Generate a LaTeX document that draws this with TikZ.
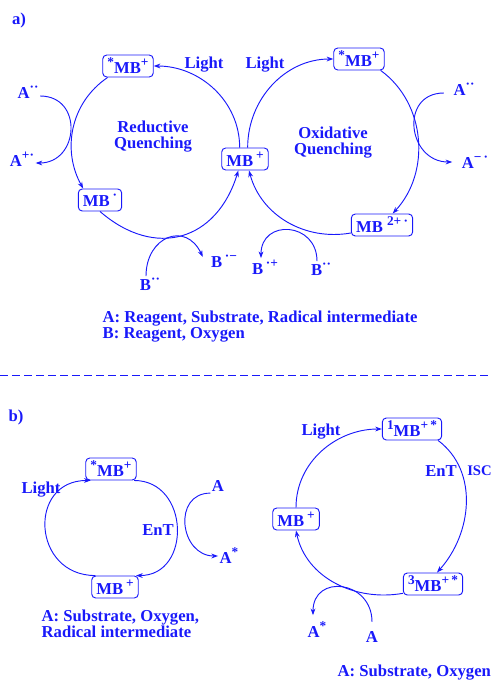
\documentclass[tikz,border=0pt]{standalone}
\usepackage{fontspec}
\setmainfont{Liberation Serif}
\usetikzlibrary{arrows.meta}
\definecolor{mbblue}{RGB}{25,25,250}
\newcommand{\upx}[1]{\raisebox{0.42em}{\fontsize{10}{10}\selectfont #1}}

\begin{document}
\begin{tikzpicture}[
  x=0.75pt, y=0.75pt,
  every node/.style={font=\fontsize{12.5}{12}\selectfont\bfseries, text=mbblue},
  box/.style={draw=mbblue, rounded corners=3pt, line width=0.7pt, inner xsep=3.5pt, inner ysep=2pt, minimum height=16.5pt},
  species/.style={inner sep=1pt},
  arrow/.style={-{Stealth[length=5pt,width=3.6pt]}, draw=mbblue, line width=0.7pt},
  legend/.style={align=left, anchor=west},
  divider/.style={draw=mbblue, line width=0.7pt, dash pattern=on 6pt off 3pt}
]
  \useasboundingbox (0,0) rectangle (492,-681);

  % a) Reductive and oxidative quenching
  \node (tagA) at (19,-20) {a)};
  \node[box] (rexc) at (128,-66) {\upx{*}MB\upx{+}};
  \node[box] (mbc) at (245,-159) {MB\,\upx{+}};
  \node[box] (lrad) at (100,-200) {MB\,\upx{·}};
  \node[box] (oexc) at (359,-59) {\upx{*}MB\upx{+}};
  \node[box] (ored) at (382,-225) {MB\ \upx{2+\,·}};

  \node (lightL) at (204,-65) {Light};
  \node (lightR) at (265,-65) {Light};
  \node[align=center] (redq) at (153,-137) {Reductive\\Quenching};
  \node[align=center] (oxq) at (333,-143) {Oxidative\\Quenching};

  \draw[arrow] ([xshift=-4pt]mbc.north) to[out=90,in=0] (rexc.east);
  \draw[arrow] ([xshift=4pt]rexc.south west) to[out=214,in=119] ([xshift=4pt]lrad.north west);
  \draw[arrow] (lrad.south) to[out=-41,in=-107,looseness=1.3] ([xshift=-5pt]mbc.south);
  \draw[arrow] ([xshift=2pt]mbc.north) to[out=90,in=180] (oexc.west);
  \draw[arrow] ([xshift=-3pt]oexc.south east) to[out=-36,in=47] ([xshift=8pt]ored.north);
  \draw[arrow] ([yshift=-6pt]ored.west) to[out=190,in=-75] ([xshift=3pt]mbc.south);

  \node[species] (lA) at (28,-92) {A\upx{··}};
  \node[species] (lAp) at (22,-159) {A\upx{+·}};
  \node[species] (lB) at (150,-284) {B\upx{··}};
  \node[species] (lBm) at (224,-261) {B\,\upx{·−}};
  \node[species] (raA) at (464,-89) {A\upx{··}};
  \node[species] (raAm) at (475,-162) {A\upx{−\,·}};
  \node[species] (rB) at (321,-269) {B\upx{··}};
  \node[species] (rBp) at (265,-267) {B\,\upx{·+}};

  \draw[arrow] ([yshift=-3pt]lA.east) to[out=0,in=0,looseness=1.66] ([yshift=-3pt]lAp.east);
  \draw[arrow] ([xshift=-3pt]lB.north) to[out=90,in=115,looseness=1.7] ([xshift=-5pt,yshift=3pt]lBm.west);
  \draw[arrow] ([xshift=-6pt,yshift=-3pt]raA.west) to[out=180,in=180,looseness=1.65] ([xshift=-6pt]raAm.west);
  \draw[arrow] ([xshift=-3pt]rB.north) to[out=90,in=90,looseness=1.8] ([xshift=-3pt]rBp.north);

  \node[legend] (legA) at (98,-327) {A: Reagent, Substrate, Radical intermediate\\B: Reagent, Oxygen};

  \draw[divider] (0,-375) -- (492,-375);

  % b) Energy transfer
  \node (tagB) at (16,-417) {b)};
  \node[box] (bexc) at (111,-469) {\upx{*}MB\upx{+}};
  \node[box] (bgr) at (115,-587) {MB\,\upx{+}};
  \node (lightB) at (41,-490) {Light};
  \node (entB) at (158,-530) {EnT};

  \draw[arrow] ([xshift=3pt]bgr.north west) to[out=180,in=180,looseness=1.7] ([xshift=4pt]bexc.south west);
  \draw[arrow] ([xshift=-2pt]bexc.south east) to[out=0,in=0,looseness=1.5] ([xshift=-2pt]bgr.north east);

  \node[species] (bA) at (218,-486) {A};
  \node[species] (bAs) at (229,-556) {A\upx{*}};
  \draw[arrow] (bA.south west) to[out=180,in=180,looseness=1.55] (bAs.west);

  \node[legend] (legB) at (37,-624) {A: Substrate, Oxygen,\\Radical intermediate};

  \node[box] (sexc) at (412,-429) {\upx{1}MB\upx{+\,*}};
  \node[box] (mbg2) at (296,-519) {MB\,\upx{+}};
  \node[box] (trip) at (433,-584) {\upx{3}MB\upx{+\,*}};
  \node (lightC) at (321,-432) {Light};
  \node (entC) at (441,-471) {EnT};
  \node[anchor=west, inner sep=0pt, font=\fontsize{11}{11}\selectfont\bfseries] (isc) at (467,-471) {ISC};

  \draw[arrow] (mbg2.north) to[out=90,in=180] (sexc.west);
  \draw[arrow] ([xshift=-3pt]sexc.south east) to[out=-37,in=48] ([xshift=3pt]trip.north);
  \draw[arrow] ([yshift=-7pt]trip.west) to[out=190,in=-78] (mbg2.south);

  \node[species] (rA) at (372,-637) {A};
  \node[species] (rAs) at (317,-630) {A\upx{*}};
  \draw[arrow] ([yshift=6pt]rA.north) to[out=90,in=90,looseness=1.8] ([xshift=-3pt,yshift=4pt]rAs.north);

  \node[legend] (legC) at (333,-673) {A: Substrate, Oxygen};
\end{tikzpicture}
\end{document}
